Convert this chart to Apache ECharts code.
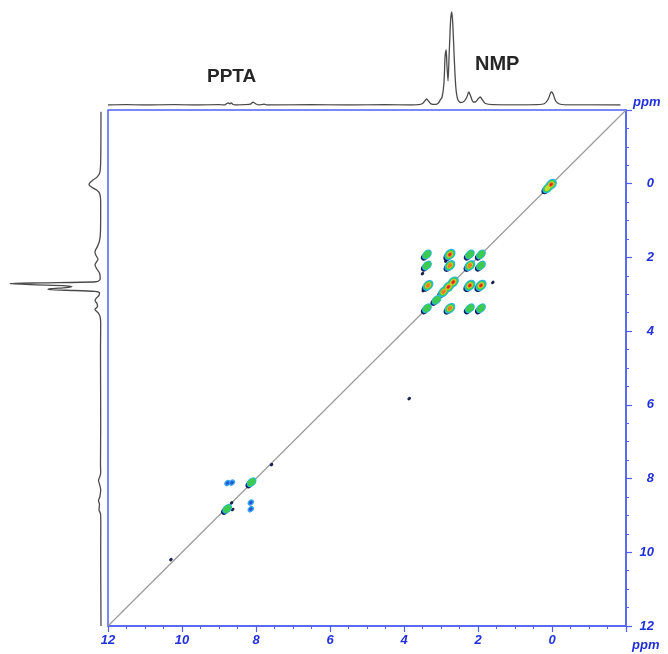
<!DOCTYPE html>
<html><head><meta charset="utf-8">
<script src="https://cdn.jsdelivr.net/npm/echarts@6/dist/echarts.min.js"></script>
<style>html,body{margin:0;padding:0;background:#fff}#c{width:668px;height:654px}</style>
</head><body><div id="c"></div>
<script>
// axis tick labels (ppm)
const axisTicks = [12, 10, 8, 6, 4, 2, 0];
const axisRange = [-2, 12];

// 1D projection on top (F2): ppm and intensity
const topPpm = [12, 11.5, 11, 10.2, 9.6, 9.0, 8.85, 8.8, 8.75, 8.71, 8.67, 8.62, 8.55, 8.3, 8.15, 8.08, 8.0, 7.92, 7.78, 7.7, 6.5, 5.5, 4.5, 3.8, 3.6, 3.5, 3.44, 3.39, 3.34, 3.27, 3.15, 3.07, 3.02, 2.97, 2.92, 2.89, 2.86, 2.84, 2.81, 2.78, 2.74, 2.71, 2.68, 2.64, 2.6, 2.55, 2.48, 2.38, 2.3, 2.25, 2.2, 2.13, 2.07, 2.0, 1.94, 1.88, 1.8, 1.6, 1.0, 0.4, 0.2, 0.1, 0.04, 0.01, -0.03, -0.1, -0.2, -0.35, -1.85];
const topInt = [0, 0.3, 0, 0.4, 0, 0.3, 0, 1.2, 2.2, 1.2, 2.0, 0.5, 0, 0.3, 0.8, 2.8, 1.0, 0, 0.8, 0, 0.3, 0, 0.3, 0, 0.3, 1.5, 4, 6, 4, 1.2, 0.6, 2, 5, 8, 22, 48, 55, 40, 24, 50, 85, 93, 80, 45, 18, 6, 2.5, 3.5, 8, 13, 9, 3, 3, 6, 8, 5, 1.5, 0.4, 0.2, 0.4, 1.5, 6, 12, 13, 11, 4, 1, 0.2, 0];

// 1D projection on the left (F1): ppm and intensity
const leftPpm = [-1.95, -0.6, -0.3, -0.18, -0.1, -0.03, 0.03, 0.1, 0.18, 0.28, 0.5, 1.3, 1.55, 1.7, 1.8, 1.88, 1.97, 2.05, 2.12, 2.2, 2.3, 2.42, 2.55, 2.6, 2.66, 2.69, 2.71, 2.74, 2.77, 2.79, 2.82, 2.85, 2.87, 2.89, 2.92, 2.96, 3.03, 3.1, 3.17, 3.25, 3.33, 3.41, 3.5, 3.6, 3.8, 4.5, 6.5, 7.6, 7.85, 7.95, 8.05, 8.15, 8.3, 8.5, 8.6, 8.7, 8.85, 8.95, 9.2, 10, 12];
const leftInt = [0, 0.3, 1.2, 4, 8, 11, 12, 9, 4, 1.2, 0.3, 0.5, 1.5, 3.5, 5.5, 6, 4.5, 3, 4.5, 6, 4.5, 1.5, 0.8, 1, 5, 60, 91, 70, 35, 29, 35, 50, 53, 35, 6, 1.5, 2, 4.5, 6, 4, 3.5, 6, 3, 1, 0.3, 0.5, 0.3, 0.5, 0.3, 1.2, 2.5, 1.5, 0.3, 1.2, 2.5, 1.5, 2, 0.5, 0.2, 0.3, 0];

// 2D cross peaks: F2 (horizontal) ppm, F1 (vertical) ppm, contour level count
const peakF2 = [3.38, 2.76, 2.22, 1.92, 3.38, 2.76, 2.22, 1.92, 3.35, 2.93, 2.80, 2.67, 2.22, 1.92, 3.38, 2.76, 2.22, 1.92, 3.12, 0.12, 0.02, 8.12, 8.78, 8.77, 8.65, 8.14, 8.14, 8.63, 8.66, 7.58, 3.86, 10.3, 2.87, 3.5, 3.48, 1.6];
const peakF1 = [1.92, 1.92, 1.92, 1.92, 2.22, 2.22, 2.22, 2.22, 2.76, 2.93, 2.80, 2.67, 2.76, 2.76, 3.38, 3.38, 3.38, 3.38, 3.15, 0.12, 0.02, 8.10, 8.82, 8.12, 8.11, 8.65, 8.83, 8.84, 8.66, 7.62, 5.83, 10.2, 2.10, 2.44, 2.90, 2.68];
const peakLevel = [3, 6, 3, 3, 3, 5, 5, 3, 5, 5, 6, 6, 6, 6, 3, 5, 3, 3, 3, 4, 6, 3, 3, 2, 2, 2, 2, 1, 1, 1, 1, 1, 1, 1, 1, 1];

const diagF = [12, -2];

const AX = '#4f60f2', LB = '#2030dc';
const outerBy = {3: [11.5, 8], 4: [12, 8.5], 5: [12.5, 9], 6: [13, 9.5]};

function layer(test, sizeFn, color, offset, z) {
  const data = [];
  peakF2.forEach((x, i) => {
    const L = peakLevel[i];
    if (test(L)) data.push({value: [x, peakF1[i]], symbolSize: sizeFn(L)});
  });
  return {
    type: 'scatter', xAxisIndex: 0, yAxisIndex: 0, data, symbol: 'circle',
    symbolRotate: 45, symbolOffset: offset || [0, 0], z,
    itemStyle: {color, opacity: 1}, silent: true, animation: false
  };
}
const sc = (f) => (L) => [outerBy[L][0] * f, outerBy[L][1] * f];

const series = [
  {type: 'line', xAxisIndex: 1, yAxisIndex: 1, data: topPpm.map((p, i) => [p, topInt[i]]),
   symbol: 'none', smooth: 0.25, lineStyle: {color: '#4a4a4a', width: 1.3}, animation: false},
  {type: 'line', xAxisIndex: 2, yAxisIndex: 2, data: leftPpm.map((p, i) => [leftInt[i], p]),
   symbol: 'none', smooth: 0.25, lineStyle: {color: '#4a4a4a', width: 1.3}, animation: false},
  {type: 'line', xAxisIndex: 0, yAxisIndex: 0, data: diagF.map(v => [v, v]), symbol: 'none',
   lineStyle: {color: '#9a9a9a', width: 1.2}, z: 1, animation: false},
  layer(L => L === 1, () => [4, 3], '#1b2450', null, 3),
  layer(L => L === 2, () => [7, 5.5], '#3aa2f0', null, 3),
  layer(L => L === 2, () => [4, 3], '#1f58d0', null, 4),
  layer(L => L >= 3, sc(0.8), '#0f1d5c', [-2, 2], 3),
  layer(L => L >= 3, sc(1.0), '#2ab8ea', null, 4),
  layer(L => L >= 3, sc(0.8), '#3ccb4e', null, 5),
  layer(L => L >= 4, sc(0.55), '#c8dc2c', null, 6),
  layer(L => L >= 5, sc(0.42), '#f27b22', null, 7),
  layer(L => L >= 6, sc(0.26), '#e41e1e', null, 8)
];

const lblFmt = v => axisTicks.indexOf(v) >= 0 ? String(v) : '';
const lblStyle = {color: LB, fontWeight: 'bold', fontStyle: 'italic', fontSize: 13, fontFamily: 'Liberation Sans, Arial, sans-serif'};

const option = {
  backgroundColor: '#fff',
  animation: false,
  grid: [
    {left: 108, top: 110, width: 518, height: 516, show: true, borderColor: AX, borderWidth: 1.5, backgroundColor: 'transparent'},
    {left: 108, top: 2, width: 518, height: 103},
    {left: 2, top: 110, width: 99, height: 516}
  ],
  xAxis: [
    {gridIndex: 0, type: 'value', min: axisRange[0], max: axisRange[1], interval: 2, inverse: true, position: 'bottom',
     axisLine: {onZero: false, lineStyle: {color: AX, width: 1.5}}, axisTick: {length: 6, lineStyle: {color: AX, width: 1.2}},
     minorTick: {show: true, splitNumber: 4, length: 3, lineStyle: {color: AX, width: 1}},
     splitLine: {show: false}, axisLabel: Object.assign({formatter: lblFmt, margin: 8}, lblStyle)},
    {gridIndex: 1, type: 'value', min: axisRange[0], max: axisRange[1], inverse: true, show: false},
    {gridIndex: 2, type: 'value', min: 0, max: 99, inverse: true, show: false}
  ],
  yAxis: [
    {gridIndex: 0, type: 'value', min: axisRange[0], max: axisRange[1], interval: 2, inverse: true, position: 'right',
     axisLine: {show: true, onZero: false, lineStyle: {color: AX, width: 1.5}}, axisTick: {show: true, length: 6, lineStyle: {color: AX, width: 1.2}},
     minorTick: {show: true, splitNumber: 4, length: 3, lineStyle: {color: AX, width: 1}},
     splitLine: {show: false}, axisLabel: Object.assign({formatter: lblFmt, margin: 28, align: 'right'}, lblStyle)},
    {gridIndex: 1, type: 'value', min: 0, max: 103, show: false},
    {gridIndex: 2, type: 'value', min: axisRange[0], max: axisRange[1], inverse: true, show: false}
  ],
  graphic: [
    {type: 'text', left: 207, top: 67, style: {text: 'PPTA', fill: '#262626', font: 'bold 19px "Liberation Sans", Arial, sans-serif'}},
    {type: 'text', left: 475, top: 54, style: {text: 'NMP', fill: '#262626', font: 'bold 20px "Liberation Sans", Arial, sans-serif'}},
    {type: 'text', left: 633, top: 96, style: {text: 'ppm', fill: LB, font: 'italic bold 13px "Liberation Sans", Arial, sans-serif'}},
    {type: 'text', left: 632, top: 639, style: {text: 'ppm', fill: LB, font: 'italic bold 13px "Liberation Sans", Arial, sans-serif'}}
  ],
  series
};
echarts.init(document.getElementById('c')).setOption(option);
</script>
</body></html>
